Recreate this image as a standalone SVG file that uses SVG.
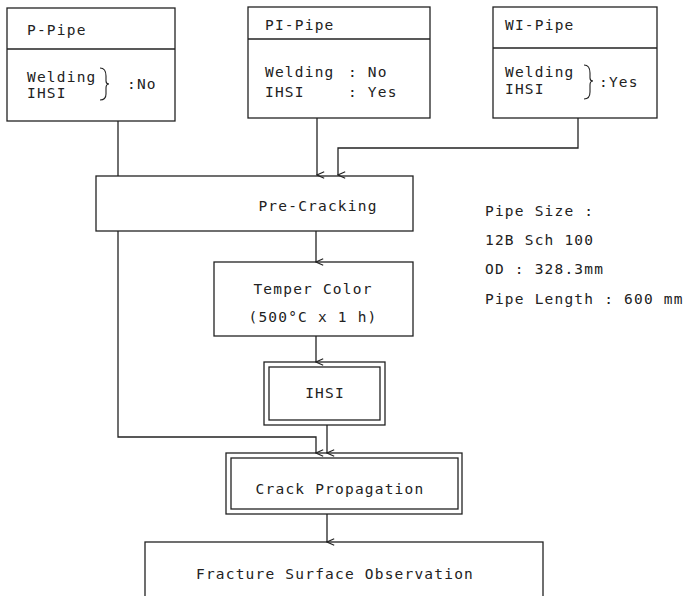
<svg xmlns="http://www.w3.org/2000/svg" width="687" height="596" viewBox="0 0 687 596">
<style>
rect,path.ln{fill:none;stroke:#222;stroke-width:1.3}
text{font-family:"DejaVu Sans Mono","Liberation Mono",monospace;font-size:14.5px;fill:#222;letter-spacing:1.2px}
.c{text-anchor:middle}
</style>
<defs>
<marker id="ah" viewBox="0 0 10 10" refX="5" refY="9" markerWidth="9" markerHeight="9" markerUnits="userSpaceOnUse" orient="auto-start-reverse">
<path d="M1.5,1 L5,9 L8.5,1" fill="none" stroke="#222" stroke-width="1.2"/>
</marker>
</defs>
<rect x="0" y="0" width="687" height="596" fill="#fff" style="stroke:none"/>
<g id="connectors">
<path class="ln" d="M118,121 V176"/>
<path class="ln" d="M317,118 V175" marker-end="url(#ah)"/>
<path class="ln" d="M578,118 V148 H338 V175" marker-end="url(#ah)"/>
<path class="ln" d="M316,231 V262" marker-end="url(#ah)"/>
<path class="ln" d="M316,336 V362" marker-end="url(#ah)"/>
<path class="ln" d="M118,231 V437 H316 V453" marker-end="url(#ah)"/>
<path class="ln" d="M327,425 V453" marker-end="url(#ah)"/>
<path class="ln" d="M327,514 V542" marker-end="url(#ah)"/>
</g>
<g id="p-pipe">
<rect x="7" y="8" width="168" height="113"/>
<path class="ln" d="M7,49 H175"/>
<text x="27" y="35">P-Pipe</text>
<text x="27" y="82">Welding</text>
<text x="27" y="98">IHSI</text>
<path class="ln" d="M100,68 Q106,68 106,76 V81 Q106,84 109,84 Q106,84 106,88 V94 Q106,100 100,100" style="stroke-width:1.1"/>
<text x="127" y="89">:No</text>
</g>
<g id="pi-pipe">
<rect x="248" y="7" width="182" height="111"/>
<path class="ln" d="M248,39 H430"/>
<text x="265" y="30">PI-Pipe</text>
<text x="265" y="77">Welding</text>
<text x="348" y="77">: No</text>
<text x="265" y="97">IHSI</text>
<text x="348" y="97">: Yes</text>
</g>
<g id="wi-pipe">
<rect x="493" y="7" width="164" height="111"/>
<path class="ln" d="M493,48 H657"/>
<text x="505" y="30">WI-Pipe</text>
<text x="505" y="77">Welding</text>
<text x="505" y="94">IHSI</text>
<path class="ln" d="M584,65 Q590,65 590,73 V78 Q590,81 593,81 Q590,81 590,85 V92 Q590,99 584,99" style="stroke-width:1.1"/>
<text x="599" y="87">:Yes</text>
</g>
<g id="pre-cracking">
<rect x="96" y="176" width="317" height="55"/>
<text x="318" y="211" class="c">Pre-Cracking</text>
</g>
<g id="temper-color">
<rect x="214" y="262" width="199" height="74"/>
<text x="313" y="294" class="c">Temper Color</text>
<text x="313" y="322" class="c">(500°C x 1 h)</text>
</g>
<g id="ihsi">
<rect x="264" y="362" width="121" height="63"/>
<rect x="269" y="367" width="111" height="53"/>
<text x="325" y="398" class="c">IHSI</text>
</g>
<g id="crack-propagation">
<rect x="226" y="453" width="236" height="61"/>
<rect x="231" y="458" width="227" height="51"/>
<text x="340" y="494" class="c">Crack Propagation</text>
</g>
<g id="fracture">
<rect x="145" y="542" width="398" height="70"/>
<text x="335" y="579" class="c">Fracture Surface Observation</text>
</g>
<g id="pipe-info">
<text x="485" y="216">Pipe Size :</text>
<text x="485" y="245">12B Sch 100</text>
<text x="485" y="274">OD : 328.3mm</text>
<text x="485" y="304">Pipe Length : 600 mm</text>
</g>
</svg>
